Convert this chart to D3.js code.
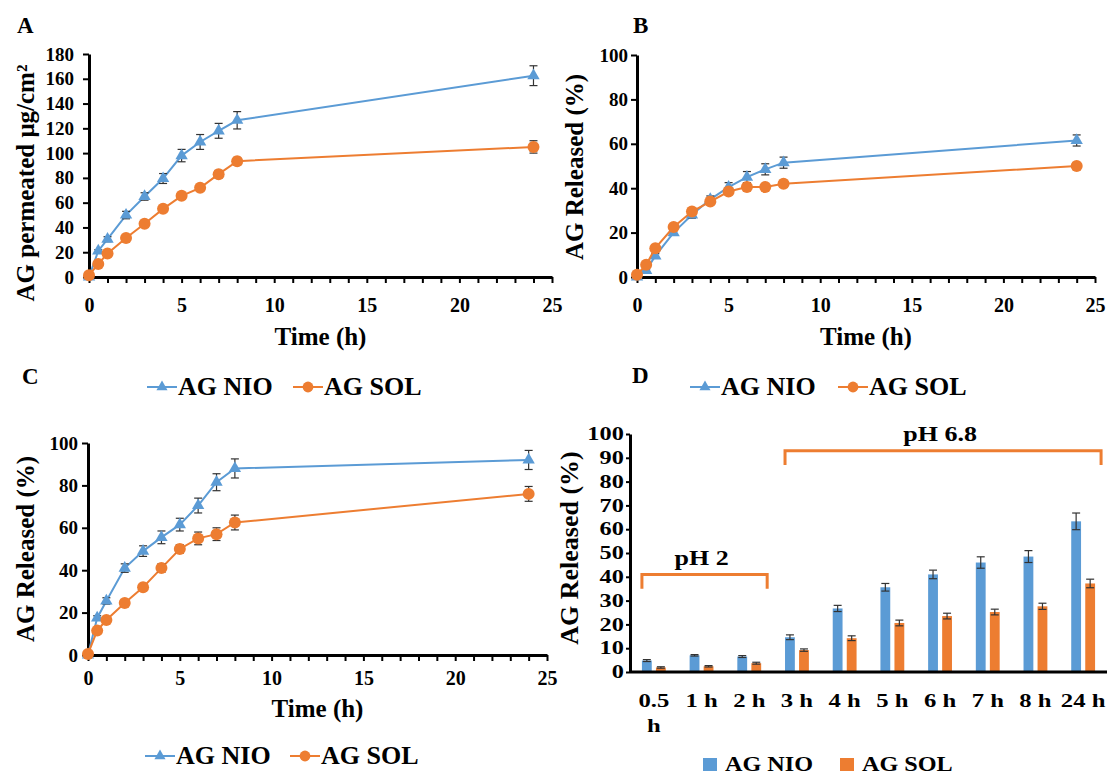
<!DOCTYPE html>
<html lang="en">
<head>
<meta charset="UTF-8">
<script src="https://cdn.jsdelivr.net/npm/d3@7/dist/d3.min.js"></script>
<title>AG NIO / AG SOL</title>
<style>
  body { margin: 0; background: #fff; }
  text { font-family: "Liberation Serif", "Times New Roman", serif; font-weight: bold; fill: #000; }
</style>
</head>
<body>
<svg width="1111" height="776"></svg>
<script>
// sampling times (h) for panels A, B, C
const hours = [0, 0.5, 1, 2, 3, 4, 5, 6, 7, 8, 24];
const seriesNames = ['AG NIO', 'AG SOL'];

// A: permeated (µg/cm²)
const aNio    = [0, 21, 30.5, 50, 65, 79.5, 98, 109, 118, 126.5, 162.5];
const aNioErr = [0, 1, 2, 3, 3, 4, 5, 6, 6, 7, 8];
const aSol    = [1.5, 10.5, 19, 31.5, 43, 55, 65.5, 72, 83, 93.5, 105];
const aSolErr = [0.5, 1, 1.5, 2, 2, 2, 2.5, 2.5, 3, 3, 5];

// B: released (%)
const bNio    = [0, 3, 9.5, 20, 28, 35, 40.5, 45, 48.5, 51.5, 61.5];
const bNioErr = [0, 0.5, 1, 1, 1.5, 1.5, 2, 2.5, 2.5, 2.5, 2.5];
const bSol    = [1, 5.5, 13, 22.5, 29.5, 34, 38.5, 40.5, 40.5, 42, 50];
const bSolErr = [0.3, 0.5, 0.8, 1, 1, 1, 1.2, 1.2, 1.2, 1.5, 1.5];

// C: released (%)
const cNio    = [0, 17.5, 25.5, 41, 49, 55.5, 61.5, 70.5, 81.5, 88, 92];
const cNioErr = [0, 1, 1.5, 2, 2.5, 3, 3, 3.5, 4, 4.5, 4.5];
const cSol    = [0.5, 11.5, 16.5, 24.5, 32, 41, 50, 55, 57, 62.5, 76];
const cSolErr = [0.3, 1, 1, 1.5, 1.5, 2, 2, 3, 3, 3.5, 3.5];

// D: released (%) per time point, bars
const dCategories = ['0.5 h', '1 h', '2 h', '3 h', '4 h', '5 h', '6 h', '7 h', '8 h', '24 h'];
const dNio    = [4.8, 7, 6.5, 14.6, 26.7, 35.6, 41, 46, 48.5, 63.3];
const dNioErr = [0.4, 0.3, 0.4, 1, 1.3, 1.6, 1.8, 2.4, 2.5, 3.5];
const dSol    = [1.9, 2.4, 3.7, 9.2, 14.2, 20.6, 23.5, 25.2, 27.6, 37.2];
const dSolErr = [0.3, 0.3, 0.4, 0.5, 1, 1.2, 1.2, 1.2, 1.3, 1.8];

// pH brackets in D
const phLabels = ['pH 2', 'pH 6.8'];
const phSpans  = [['0.5 h', '2 h'], ['3 h', '24 h']];
const phLevels = [41, 93];

const blue = '#5b9bd5', orange = '#ed7d31', errColor = '#333';
const svg = d3.select('svg');

function styleAxis(sel, size) {
  sel.attr('font-family', null).attr('font-size', size);
  sel.select('.domain').attr('stroke', '#000').attr('stroke-width', 3);
  sel.selectAll('.tick line').attr('stroke', '#000').attr('stroke-width', 2);
  sel.selectAll('.tick text').attr('fill', '#000');
}

function label(str, x, y, size, anchor) {
  return svg.append('text').attr('x', x).attr('y', y)
    .attr('font-size', size).attr('text-anchor', anchor || 'start').text(str);
}

function vLabel(str, x, y, size) {
  return svg.append('text').attr('transform', `translate(${x},${y}) rotate(-90)`)
    .attr('font-size', size).attr('text-anchor', 'middle').text(str);
}

const triangle = d3.symbol().type(d3.symbolTriangle).size(66);

function marker(g, kind, cx, cy, color, scale) {
  if (kind === 'tri') {
    g.append('path').attr('d', triangle()).attr('fill', color)
      .attr('transform', `translate(${cx},${cy}) scale(${scale || 1})`);
  } else {
    g.append('circle').attr('cx', cx).attr('cy', cy).attr('r', 6 * (scale || 1)).attr('fill', color);
  }
}

function linePanel(p) {
  const x = d3.scaleLinear().domain([0, 25]).range([p.left, p.right]);
  const y = d3.scaleLinear().domain([0, p.ymax]).range([p.bottom, p.top]);
  const g = svg.append('g');

  const xAxis = g.append('g')
    .attr('transform', `translate(0,${p.bottom})`)
    .call(d3.axisBottom(x).tickValues(d3.range(0, 26)).tickSize(6).tickSizeOuter(0)
      .tickFormat(d => d % 5 === 0 ? d : ''));
  styleAxis(xAxis, 20);
  xAxis.selectAll('.tick text').attr('y', p.xLabelY).attr('dy', 0);

  const yAxis = g.append('g')
    .attr('transform', `translate(${p.left},0)`)
    .call(d3.axisLeft(y).tickValues(d3.range(0, p.ymax + 1, p.ystep)).tickSize(6).tickSizeOuter(0));
  styleAxis(yAxis, 19);
  yAxis.selectAll('.tick text').attr('x', -p.yLabelGap);

  p.series.forEach(s => {
    const pts = hours.map((h, i) => ({ h: h, v: s.values[i], e: s.err[i] }));
    g.append('path').datum(pts)
      .attr('d', d3.line().x(d => x(d.h)).y(d => y(d.v)))
      .attr('fill', 'none').attr('stroke', s.color).attr('stroke-width', 2);

    const eb = g.append('g').attr('stroke', errColor).attr('stroke-width', 1.2);
    pts.filter(d => d.e > 0).forEach(d => {
      const cx = x(d.h), y1 = y(d.v + d.e), y2 = y(d.v - d.e);
      eb.append('line').attr('x1', cx).attr('x2', cx).attr('y1', y1).attr('y2', y2);
      eb.append('line').attr('x1', cx - 4).attr('x2', cx + 4).attr('y1', y1).attr('y2', y1);
      eb.append('line').attr('x1', cx - 4).attr('x2', cx + 4).attr('y1', y2).attr('y2', y2);
    });

    pts.forEach(d => marker(g, s.kind, x(d.h), y(d.v), s.color));
  });

  // titles
  label('Time (h)', (p.left + p.right) / 2, p.xTitleY, 25, 'middle');
  vLabel(p.yTitle, p.yTitleX, p.yTitleY, 25);
  label(p.letter, p.letterX, p.letterY, 23);

  // legend
  const lg = svg.append('g');
  p.series.forEach((s, i) => {
    const lx = p.legendX[i], ly = p.legendY - 8;
    lg.append('line').attr('x1', lx).attr('x2', lx + 30).attr('y1', ly).attr('y2', ly)
      .attr('stroke', s.color).attr('stroke-width', 2);
    marker(lg, s.kind, lx + 15, ly, s.color, 0.9);
    lg.append('text').attr('x', lx + 31).attr('y', p.legendY).attr('font-size', 26).text(s.name);
  });
}

linePanel({
  left: 89, right: 552, top: 54, bottom: 277, ymax: 180, ystep: 20,
  xLabelY: 35, yLabelGap: 15, xTitleY: 345,
  yTitle: 'AG permeated \u03bcg/cm\u00b2', yTitleX: 34, yTitleY: 183,
  letter: 'A', letterX: 17, letterY: 33,
  legendX: [147, 293], legendY: 395,
  series: [
    { name: seriesNames[0], values: aNio, err: aNioErr, color: blue, kind: 'tri' },
    { name: seriesNames[1], values: aSol, err: aSolErr, color: orange, kind: 'dot' }
  ]
});

linePanel({
  left: 637, right: 1095, top: 55, bottom: 277, ymax: 100, ystep: 20,
  xLabelY: 35, yLabelGap: 9, xTitleY: 345,
  yTitle: 'AG Released (%)', yTitleX: 583, yTitleY: 167,
  letter: 'B', letterX: 633, letterY: 33,
  legendX: [690, 838], legendY: 395,
  series: [
    { name: seriesNames[0], values: bNio, err: bNioErr, color: blue, kind: 'tri' },
    { name: seriesNames[1], values: bSol, err: bSolErr, color: orange, kind: 'dot' }
  ]
});

linePanel({
  left: 88, right: 547, top: 443, bottom: 655, ymax: 100, ystep: 20,
  xLabelY: 30, yLabelGap: 10, xTitleY: 717,
  yTitle: 'AG Released (%)', yTitleX: 34, yTitleY: 549,
  letter: 'C', letterX: 22, letterY: 384,
  legendX: [145, 290], legendY: 764,
  series: [
    { name: seriesNames[0], values: cNio, err: cNioErr, color: blue, kind: 'tri' },
    { name: seriesNames[1], values: cSol, err: cSolErr, color: orange, kind: 'dot' }
  ]
});

// ---- panel D: grouped bars ----
(function () {
  const left = 630, right = 1107, top = 434, bottom = 672;
  const sx = 1.3; // the bar panel's text is drawn wider than tall
  const x = d3.scaleBand().domain(dCategories).range([left, right]).paddingInner(0.5).paddingOuter(0.25);
  const inner = d3.scaleBand().domain([0, 1]).range([0, x.bandwidth()]).paddingInner(0.3);
  const y = d3.scaleLinear().domain([0, 100]).range([bottom, top]);
  const g = svg.append('g');

  const series = [
    { values: dNio, err: dNioErr, color: blue },
    { values: dSol, err: dSolErr, color: orange }
  ];

  series.forEach((s, si) => {
    g.append('g').selectAll('rect').data(dCategories).join('rect')
      .attr('x', d => x(d) + inner(si))
      .attr('width', inner.bandwidth())
      .attr('y', (d, i) => y(s.values[i]))
      .attr('height', (d, i) => y(0) - y(s.values[i]))
      .attr('fill', s.color);
  });

  const eb = g.append('g').attr('stroke', errColor).attr('stroke-width', 1.2);
  series.forEach((s, si) => {
    dCategories.forEach((c, i) => {
      const cx = x(c) + inner(si) + inner.bandwidth() / 2;
      const y1 = y(s.values[i] + s.err[i]), y2 = y(s.values[i] - s.err[i]);
      eb.append('line').attr('x1', cx).attr('x2', cx).attr('y1', y1).attr('y2', y2);
      eb.append('line').attr('x1', cx - 4).attr('x2', cx + 4).attr('y1', y1).attr('y2', y1);
      eb.append('line').attr('x1', cx - 4).attr('x2', cx + 4).attr('y1', y2).attr('y2', y2);
    });
  });

  const xAxis = g.append('g').attr('transform', `translate(0,${bottom})`)
    .call(d3.axisBottom(x).tickSize(0).tickSizeOuter(0));
  styleAxis(xAxis, 19);
  xAxis.select('.domain').attr('d', `M${left},0H${right}`);
  xAxis.selectAll('.tick text')
    .attr('y', 35).attr('dy', 0)
    .attr('transform', `scale(${sx},1)`)
    .each(function (d) {
      const parts = d.split(' ');
      if (d.indexOf('.') >= 0) {
        const t = d3.select(this).text(null);
        t.append('tspan').attr('x', 0).text(parts[0]);
        t.append('tspan').attr('x', 0).attr('dy', 25).text(parts[1]);
      }
    });

  const yAxis = g.append('g').attr('transform', `translate(${left},0)`)
    .call(d3.axisLeft(y).tickValues(d3.range(0, 101, 10)).tickSize(4).tickSizeOuter(0));
  styleAxis(yAxis, 18);
  yAxis.selectAll('.tick text').attr('x', -6 / sx).attr('transform', `scale(1.35,1)`);

  // pH brackets
  phLabels.forEach((txt, i) => {
    const a = phSpans[i][0], b = phSpans[i][1];
    const x0 = x(a) + inner(0);
    const x1 = x(b) + inner(1) + inner.bandwidth() + 6;
    const yl = y(phLevels[i]), yd = y(phLevels[i] - 6);
    g.append('path')
      .attr('d', d3.line()([[x0, yd], [x0, yl], [x1, yl], [x1, yd]]))
      .attr('fill', 'none').attr('stroke', orange).attr('stroke-width', 3);
    const cx = (x(a) + x(b)) / 2 + x.bandwidth() / 2;
    g.append('text')
      .attr('transform', `translate(${cx},${y(phLevels[i] + 4)}) scale(${sx},1)`)
      .attr('text-anchor', 'middle').attr('font-size', 20).text(txt);
  });

  vLabel('AG Released (%)', 578, 548, 26);
  label('D', 632, 383, 23);

  // legend
  const lx = [703, 840];
  series.forEach((s, i) => {
    svg.append('rect').attr('x', lx[i]).attr('y', 758).attr('width', 14).attr('height', 13).attr('fill', s.color);
    svg.append('text').attr('transform', `translate(${lx[i] + 22},771) scale(1.1,1)`)
      .attr('font-size', 22).text(seriesNames[i]);
  });
})();
</script>
</body>
</html>
